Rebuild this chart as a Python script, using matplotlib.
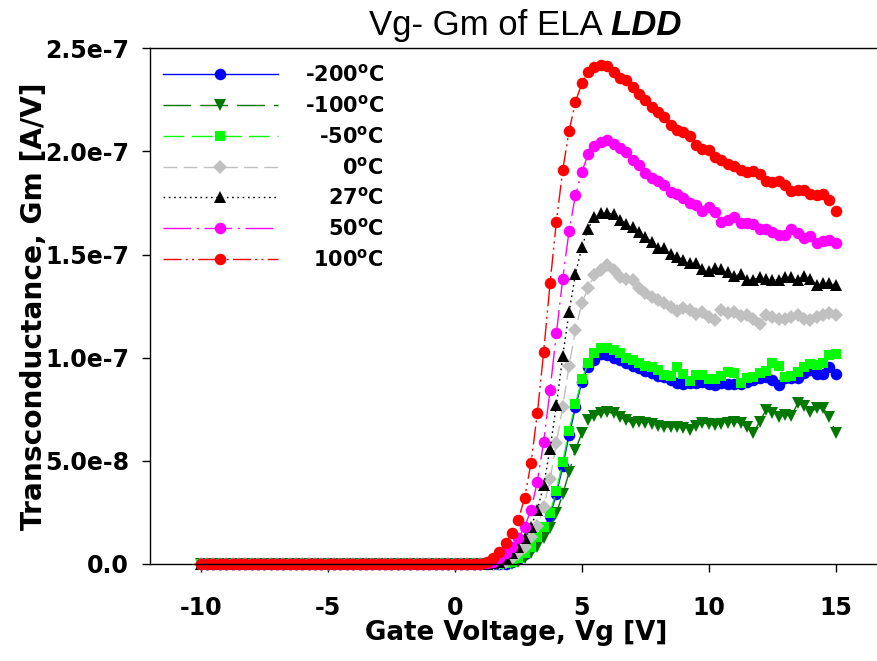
import numpy as np
import matplotlib
matplotlib.use("Agg")
import matplotlib.pyplot as plt

plt.rcParams['font.family'] = ['DejaVu Sans']
plt.rcParams['mathtext.fontset'] = 'custom'
plt.rcParams['mathtext.rm'] = 'DejaVu Sans:bold'
plt.rcParams['mathtext.it'] = 'DejaVu Sans:bold'
plt.rcParams['mathtext.bf'] = 'DejaVu Sans:bold'
plt.rcParams['mathtext.default'] = 'rm'
plt.rcParams['lines.scale_dashes'] = False
plt.rcParams['xtick.major.pad'] = 17
plt.rcParams['ytick.major.pad'] = 9

# ---------------- data ----------------
vg = np.arange(-10.0, 15.0 + 1e-9, 0.25)          # gate voltage grid (101 points)
zeros_below_1V = [0.0] * 44                          # Vg = -10 ... 0.75 : Gm = 0

# Gm (x1e-8 A/V) for Vg = 1.0 ... 15.0 (step 0.25)
gm_m200 = [0, 0, 0, 0, 0.02, 0.09, 0.25, 0.48, 0.8, 1.25, 1.7, 2.35, 3.4, 4.75, 6.25, 7.6, 8.83,
           9.56, 9.88, 10.17, 10.13, 10.01, 9.88, 9.75, 9.59, 9.48, 9.37, 9.24, 9.11, 9.05, 8.91, 8.79, 8.72, 8.79, 8.79, 8.83, 8.72,
           8.67, 8.79, 8.75, 8.72, 8.75, 8.83, 8.91, 9.0, 9.07, 8.91, 8.67, 9.0, 9.0, 9.0, 9.24, 9.4, 9.21, 9.21, 9.56, 9.21]
gm_m100 = [0, 0, 0, 0, 0, 0, 0.11, 0.28, 0.52, 0.84, 1.28, 1.73, 2.47, 3.38, 4.45, 5.55, 6.33,
           6.98, 7.17, 7.3, 7.38, 7.3, 7.14, 6.98, 6.82, 6.9, 6.82, 6.78, 6.69, 6.65, 6.65, 6.65, 6.57, 6.52, 6.69, 6.85, 6.78,
           6.73, 6.78, 6.85, 6.9, 6.82, 6.65, 6.36, 6.9, 7.46, 7.3, 7.14, 7.22, 7.17, 7.79, 7.65, 7.38, 7.54, 7.54, 7.14, 6.36]
gm_m50 = [0, 0, 0, 0, 0.03, 0.11, 0.28, 0.52, 0.84, 1.32, 1.77, 2.47, 3.56, 4.93, 6.47, 7.75, 8.95,
          9.72, 10.21, 10.47, 10.49, 10.38, 10.21, 10.0, 9.87, 9.72, 9.6, 9.53, 9.4, 9.16, 9.1, 9.55, 9.2, 8.87, 9.16, 9.16, 8.97,
          8.97, 9.09, 9.32, 9.24, 8.79, 9.0, 9.07, 9.24, 9.37, 9.72, 9.59, 9.07, 9.11, 9.32, 9.56, 9.69, 9.64, 9.72, 10.13, 10.17]
gm_0 = [0, 0, 0, 0.03, 0.11, 0.28, 0.52, 0.84, 1.29, 1.84, 2.78, 4.1, 5.85, 7.63, 9.61, 11.34, 12.63,
        13.4, 14.0, 14.24, 14.49, 14.24, 13.92, 13.84, 13.76, 13.36, 13.12, 12.95, 12.79, 12.63, 12.44, 12.27, 12.39, 12.31, 12.11, 12.22, 11.95,
        11.82, 12.31, 12.15, 12.22, 12.02, 12.06, 11.9, 11.63, 12.06, 11.98, 11.86, 11.9, 11.98, 12.06, 11.9, 11.82, 11.98, 12.06, 12.15, 12.06]
gm_27 = [0.0, 0.0, 0.03, 0.11, 0.28, 0.52, 0.84, 1.24, 1.81, 2.62, 3.83, 5.58, 7.7, 10.08, 12.22, 14.05, 15.37,
         16.26, 16.83, 17.02, 17.02, 16.96, 16.7, 16.47, 16.34, 16.1, 15.83, 15.62, 15.34, 15.3, 15.02, 14.86, 14.76, 14.6, 14.57, 14.28, 14.21,
         14.33, 14.28, 14.16, 13.95, 14.05, 13.79, 13.76, 13.92, 13.84, 13.79, 13.76, 13.92, 13.89, 13.76, 13.95, 13.84, 13.52, 13.6, 13.6, 13.52]
gm_50 = [0.0, 0.03, 0.11, 0.28, 0.52, 0.84, 1.24, 1.81, 2.62, 3.99, 5.93, 8.43, 11.18, 13.84, 16.15, 17.88, 19.01,
         19.86, 20.25, 20.46, 20.54, 20.38, 20.19, 19.98, 19.57, 19.33, 18.96, 18.69, 18.57, 18.36, 18.04, 17.93, 17.72, 17.51, 17.39, 17.12, 17.31,
         17.07, 16.58, 16.67, 16.83, 16.54, 16.54, 16.47, 16.26, 16.22, 16.1, 15.94, 15.94, 16.22, 16.05, 15.78, 15.89, 15.57, 15.66, 15.7, 15.54]
gm_100 = [0.02, 0.1, 0.28, 0.6, 1.0, 1.5, 2.15, 3.2, 4.9, 7.3, 10.3, 13.6, 16.6, 19.1, 21.0, 22.4, 23.3,
          23.85, 24.1, 24.2, 24.13, 23.84, 23.58, 23.45, 23.13, 22.77, 22.51, 22.16, 21.91, 21.67, 21.27, 21.06, 20.96, 20.74, 20.33, 20.12, 20.06,
          19.73, 19.57, 19.41, 19.28, 19.12, 19.0, 19.06, 18.9, 18.57, 18.5, 18.56, 18.36, 18.07, 18.12, 18.12, 17.96, 17.89, 17.96, 17.64, 17.12]

labels = ['-200$^{o}$C', '-100$^{o}$C', '-50$^{o}$C', '0$^{o}$C', '27$^{o}$C', '50$^{o}$C', '100$^{o}$C']
series = [gm_m200, gm_m100, gm_m50, gm_0, gm_27, gm_50, gm_100]

xticks = [-10, -5, 0, 5, 10, 15]
yticks = [0.0, 5.0e-8, 1.0e-7, 1.5e-7, 2.0e-7, 2.5e-7]
ytick_labels = ['0.0', '5.0e-8', '1.0e-7', '1.5e-7', '2.0e-7', '2.5e-7']

# ---------------- styles ----------------
styles = [
    dict(color='#0000ff', marker='o', linestyle='-'),
    dict(color='#007800', marker='v', linestyle=(0, (20, 6.5))),
    dict(color='#00ff00', marker='s', linestyle=(0, (15, 5.5)), ms_scale=0.9),
    dict(color='#c0c0c0', marker='D', linestyle=(0, (10, 4.5)), ms_scale=0.8),
    dict(color='#000000', marker='^', linestyle=(0, (1.2, 2.6))),
    dict(color='#ff00ff', marker='o', linestyle=(0, (20, 4, 1.5, 4))),
    dict(color='#ff0000', marker='o', linestyle=(0, (13, 3, 1.5, 3, 1.5, 3))),
]

W, H = 878, 661
fig = plt.figure(figsize=(W / 100, H / 100), dpi=100)
ax = fig.add_axes([0.17084, 0.14675, 0.83895, 0.78018])

handles = []
for vals, lab, st in zip(series, labels, styles):
    y = np.array(zeros_below_1V + list(vals)) * 1e-8
    ms = 8.3 * st.get('ms_scale', 1.0)
    h, = ax.plot(vg, y, color=st['color'], marker=st['marker'], linestyle=st['linestyle'],
                 linewidth=1.0, markersize=ms, markeredgewidth=0, label=lab, clip_on=False)
    handles.append(h)

ax.set_xlim(-12, 17)
ax.set_ylim(0, 2.5e-7)
ax.set_xticks(xticks)
ax.set_xticklabels([str(t) for t in xticks])
ax.set_yticks(yticks)
ax.set_yticklabels(ytick_labels)
ax.spines['right'].set_visible(False)
for s in ['left', 'bottom', 'top']:
    ax.spines[s].set_linewidth(1.0)
ax.tick_params(axis='both', direction='out', length=6, width=1.0, labelsize=17)
for t in ax.get_xticklabels() + ax.get_yticklabels():
    t.set_fontweight('bold')

ax.set_xlabel('Gate Voltage, Vg [V]', fontsize=18.8, fontweight='bold')
ax.set_ylabel('Transconductance, Gm [A/V]', fontsize=20.2, fontweight='bold')
ax.xaxis.set_label_coords(0.497, -0.108)
ax.yaxis.set_label_coords(-0.139, 0.5)

# title: regular part + bold italic part
t1 = fig.text(0, 0, 'Vg- Gm of ELA ', fontsize=25, family='Liberation Sans')
t2 = fig.text(0, 0, 'LDD', fontsize=25, family='Liberation Sans', weight='bold', style='italic')

leg = ax.legend(handles=handles, loc='upper left', bbox_to_anchor=(0.0176, 0.970),
                frameon=False, prop={'weight': 'bold', 'size': 15},
                handlelength=5.5, handletextpad=1.3, labelspacing=0.42,
                borderpad=0.0, borderaxespad=0.0)
fig.canvas.draw()
r = fig.canvas.get_renderer()
texts = leg.get_texts()
widths = [t.get_window_extent(r).width for t in texts]
wmax = max(widths)
for t, wi in zip(texts, widths):
    t.set_position((wmax - wi, 0))

w1 = t1.get_window_extent(r).width
w2 = t2.get_window_extent(r).width
x0 = 525 - (w1 + w2) / 2
ybase = 1 - 35 / H
t1.set_position((x0 / W, ybase))
t2.set_position(((x0 + w1) / W, ybase))

fig.savefig('out.png', dpi=100)
